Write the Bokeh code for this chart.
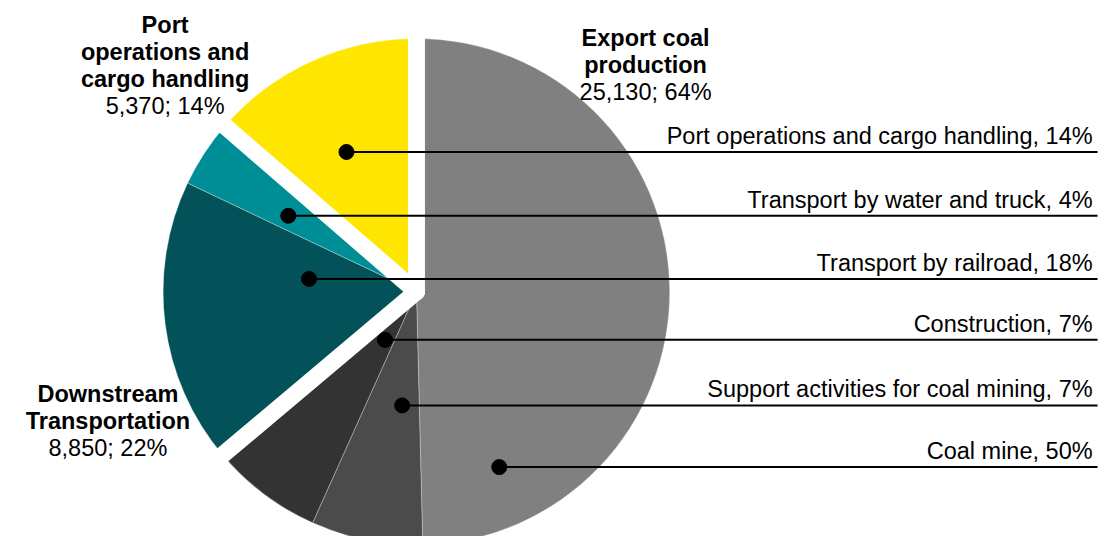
import numpy as np
from bokeh.plotting import figure
from bokeh.models import Range1d
from bokeh.core.properties import value
from bokeh.embed import file_html
from bokeh.resources import INLINE

# ---------------- data ----------------
slice_names = ["Coal mine", "Support activities for coal mining", "Construction",
               "Transport by railroad", "Transport by water and truck",
               "Port operations and cargo handling"]
slice_values = [19520, 2800, 2810, 7160, 1690, 5370]
slice_pct = ["50%", "7%", "7%", "18%", "4%", "14%"]
slice_group = [0, 0, 0, 1, 1, 2]

group_names = [["Export coal", "production"],
               ["Downstream", "Transportation"],
               ["Port", "operations and", "cargo handling"]]
group_values = [25130, 8850, 5370]
group_pct = ["64%", "22%", "14%"]

# ---------------- style / layout ----------------
slice_colors = ["#808080", "#4B4B4B", "#333333", "#03525A", "#008E96", "#FFE600"]
FONT = value("Liberation Sans")
FS = value("23.5px")
W, H = 1099, 536
REF_W, REF_H = 1115, 552
SX, SY = W / REF_W, H / REF_H   # screen px per layout unit
TEXT_LIFT = 6                   # compensate baseline placement


def Y(screen_y):
    return REF_H - screen_y


CX, CY, R = 422.0, Y(300.0), 257.0
GAP = 17

# leader annotations (layout units): dot x, line y, in order of slice_names
leader_dot = {0: (506, 480.5), 1: (407.5, 417), 2: (390, 349.5),
              3: (313, 286.7), 4: (292, 221.7), 5: (351, 156)}
LINE_END = 1113
LABEL_RIGHT = 1108

# group label layout: centre x, first baseline, line step
group_layout = {0: (654.5, 45.0), 1: (109.0, 411.5), 2: (167.0, 31.7)}
STEP = 27.8

p = figure(width=W, height=H, x_range=Range1d(0, REF_W), y_range=Range1d(0, REF_H),
           output_backend="svg", toolbar_location=None, min_border=0)
p.axis.visible = False
p.grid.visible = False
p.outline_line_color = None
p.background_fill_color = "white"
p.border_fill_color = "white"

total = float(sum(slice_values))
frac = np.array(slice_values) / total
cum = np.concatenate([[0.0], np.cumsum(frac)])
start = np.pi / 2 - 2 * np.pi * cum[1:]
end = np.pi / 2 - 2 * np.pi * cum[:-1]

p.wedge(x=CX, y=CY, radius=R, start_angle=start, end_angle=end, direction="anticlock",
        fill_color=slice_colors, line_color="white", line_width=0.6, line_alpha=0.5)

# white separators between groups (directions computed in screen space)
gcum = np.concatenate([[0.0], np.cumsum(np.array(group_values) / float(sum(group_values)))])[:-1]
theta = 2 * np.pi * gcum
r_scr = (R + 12) * SX
x1 = CX + r_scr * np.sin(theta) / SX
y1 = CY + r_scr * np.cos(theta) / SY
p.segment(x0=[CX] * len(theta), y0=[CY] * len(theta), x1=x1, y1=y1,
          line_color="white", line_width=GAP, line_cap="round")

# leader lines, dots, labels
for i, name in enumerate(slice_names):
    dx, ly = leader_dot[i]
    p.segment(x0=[dx], y0=[Y(ly)], x1=[LINE_END], y1=[Y(ly)], line_color="black", line_width=2)
    p.scatter(x=[dx], y=[Y(ly)], size=15, fill_color="black", line_color="black", marker="circle")
    p.text(x=[LABEL_RIGHT], y=[Y(ly - 10.5 - TEXT_LIFT)], text=[f"{name}, {slice_pct[i]}"],
           text_font=FONT, text_font_size=FS, text_color="black",
           text_align="right", text_baseline="alphabetic")

for g, lines in enumerate(group_names):
    gx, gy = group_layout[g]
    gy -= TEXT_LIFT
    for k, ln in enumerate(lines):
        p.text(x=[gx], y=[Y(gy + k * STEP)], text=[ln], text_font=FONT,
               text_font_size=FS, text_font_style="bold", text_color="black",
               text_align="center", text_baseline="alphabetic")
    p.text(x=[gx], y=[Y(gy + len(lines) * STEP)], text=[f"{group_values[g]:,}; {group_pct[g]}"],
           text_font=FONT, text_font_size=FS, text_color="black",
           text_align="center", text_baseline="alphabetic")

open("out.html", "w").write(file_html(p, INLINE))
